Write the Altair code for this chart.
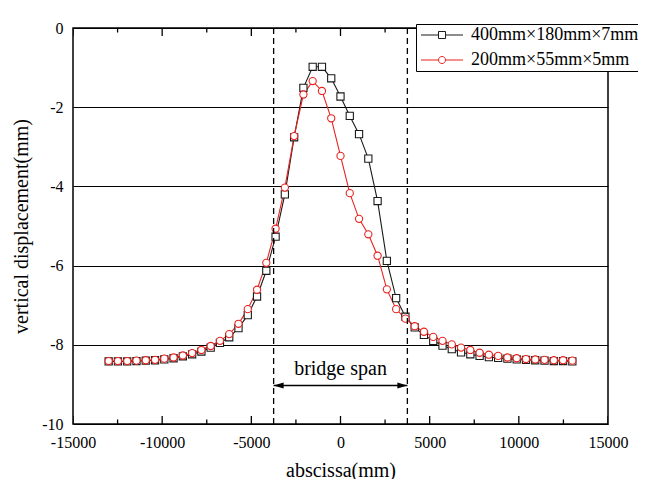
import altair as alt
import pandas as pd

FONT = "Liberation Serif"

x_mm = [-13000, -12480, -11960, -11440, -10920, -10400, -9880, -9360, -8840, -8320,
        -7800, -7280, -6760, -6240, -5720, -5200, -4680, -4160, -3640, -3120,
        -2600, -2080, -1560, -1040, -520, 0, 520, 1040, 1560, 2080,
        2600, 3120, 3640, 4160, 4680, 5200, 5720, 6240, 6760, 7280,
        7800, 8320, 8840, 9360, 9880, 10400, 10920, 11440, 11960, 12480, 13000]

y_400 = [-8.42, -8.42, -8.42, -8.41, -8.40, -8.39, -8.37, -8.34, -8.29, -8.24,
         -8.17, -8.07, -7.95, -7.81, -7.58, -7.25, -6.78, -6.13, -5.27, -4.20,
         -2.76, -1.51, -0.98, -0.98, -1.27, -1.73, -2.22, -2.68, -3.30, -4.37,
         -5.88, -6.82, -7.29, -7.56, -7.75, -7.90, -8.02, -8.11, -8.19, -8.24,
         -8.28, -8.31, -8.33, -8.35, -8.37, -8.38, -8.39, -8.40, -8.41, -8.41, -8.42]

y_200 = [-8.41, -8.41, -8.41, -8.40, -8.39, -8.38, -8.35, -8.32, -8.27, -8.21,
         -8.13, -8.03, -7.90, -7.73, -7.47, -7.10, -6.61, -5.93, -5.07, -4.03,
         -2.73, -1.68, -1.34, -1.59, -2.28, -3.23, -4.17, -4.82, -5.21, -5.75,
         -6.60, -7.10, -7.34, -7.53, -7.67, -7.80, -7.90, -7.99, -8.07, -8.13,
         -8.20, -8.25, -8.28, -8.32, -8.34, -8.36, -8.37, -8.38, -8.39, -8.39, -8.40]

series_names = ["400mm×180mm×7mm", "200mm×55mm×5mm"]
series_colors = ["#1a1a1a", "#e8231f"]

span_ends = [-3750, 3750]
arrow_y = [-9.03]
span_label = ["bridge span"]
span_label_y = [-8.76]

x_major = [-15000, -10000, -5000, 0, 5000, 10000, 15000]
x_minor = [-12500, -7500, -2500, 2500, 7500, 12500]
y_ticks = [-10, -8, -6, -4, -2, 0]
y_edges = [-10, 0]

W, H = 535, 396

df = pd.concat([
    pd.DataFrame({"x": x_mm, "y": y_400, "series": series_names[0]}),
    pd.DataFrame({"x": x_mm, "y": y_200, "series": series_names[1]}),
], ignore_index=True)

span_df = pd.DataFrame({"x": span_ends})
arrow_df = pd.DataFrame({"x": [span_ends[0]], "x2": [span_ends[1]], "y": arrow_y})
left_head = pd.DataFrame({"x": [span_ends[0]], "y": arrow_y})
right_head = pd.DataFrame({"x": [span_ends[1]], "y": arrow_y})
label_df = pd.DataFrame({"x": [0], "y": span_label_y, "label": span_label})
major_df = pd.DataFrame([{"x": v, "y": e} for v in x_major for e in y_edges])
minor_df = pd.DataFrame([{"x": v, "y": e} for v in x_minor for e in y_edges])

xscale = alt.Scale(domain=[-15000, 15000], nice=False, zero=False)
yscale = alt.Scale(domain=[-10, 0], nice=False, zero=False)

x_label_axis = alt.Axis(values=x_major, title="abscissa(mm)", labelExpr="'' + datum.value",
                        labelFont=FONT, labelFontSize=16, labelColor="black", labelPadding=10,
                        labelFlush=False, ticks=False, domain=False, grid=False,
                        titleFont=FONT, titleFontSize=20, titleFontWeight="normal",
                        titleColor="black", titlePadding=10)

y_axis = alt.Axis(orient="left", values=y_ticks, title="vertical displacement(mm)",
                  labelExpr="'' + datum.value",
                  labelFont=FONT, labelFontSize=16, labelColor="black", labelPadding=10,
                  labelFlush=False, ticks=False, domain=False, grid=True, gridColor="black",
                  gridWidth=1.2, gridOpacity=1, titleFont=FONT, titleFontSize=20,
                  titleFontWeight="normal", titleColor="black", titlePadding=10)

color_scale = alt.Scale(domain=series_names, range=series_colors)
X = alt.X("x:Q", scale=xscale, axis=None)
Y = alt.Y("y:Q", scale=yscale, axis=None)

lines = alt.Chart(df).mark_line(strokeWidth=1.1).encode(
    x=alt.X("x:Q", scale=xscale, axis=x_label_axis),
    y=alt.Y("y:Q", scale=yscale, axis=y_axis),
    color=alt.Color("series:N", scale=color_scale, legend=None),
    detail="series:N",
    order="x:Q",
)

points = alt.Chart(df).mark_point(filled=False, fill="white", fillOpacity=1, opacity=1,
                                  strokeWidth=1.1, size=52).encode(
    x=X, y=Y,
    color=alt.Color("series:N", scale=color_scale, legend=None),
    shape=alt.Shape("series:N", scale=alt.Scale(domain=series_names, range=["square", "circle"]),
                    legend=None),
)

# inward axis ticks on the bottom and top edges (half of each tick is clipped away)
major_ticks = alt.Chart(major_df).mark_tick(orient="vertical", size=16, thickness=1.3,
                                            color="black", opacity=1, clip=True).encode(x=X, y=Y)
minor_ticks = alt.Chart(minor_df).mark_tick(orient="vertical", size=9, thickness=1.3,
                                            color="black", opacity=1, clip=True).encode(x=X, y=Y)

dashed = alt.Chart(span_df).mark_rule(color="black", strokeWidth=1.3, strokeDash=[6, 4]).encode(
    x=X,
)

arrow = alt.Chart(arrow_df).mark_rule(color="black", strokeWidth=1.5).encode(
    x=X, x2="x2:Q", y=Y,
)

lhead = alt.Chart(left_head).mark_point(shape="M0,0L2,-0.6L2,0.6Z", size=100, filled=True,
                                        color="black", opacity=1).encode(x=X, y=Y)
rhead = alt.Chart(right_head).mark_point(shape="M0,0L-2,-0.6L-2,0.6Z", size=100, filled=True,
                                         color="black", opacity=1).encode(x=X, y=Y)

text = alt.Chart(label_df).mark_text(font=FONT, fontSize=20, color="black",
                                     baseline="alphabetic", align="center").encode(
    x=X, y=Y, text="label:N",
)

sq = "M-1.09,0L2.09,0M3.37,0L6.55,0M2.09,-0.64L3.37,-0.64L3.37,0.64L2.09,0.64Z"
ci = "M-1.09,0L2.09,0M3.37,0L6.55,0M3.37,0A0.64,0.64,0,1,1,2.09,0A0.64,0.64,0,1,1,3.37,0Z"

legend_layer = alt.Chart(df).transform_filter("false").mark_point(
    filled=False, fill="white", opacity=1, strokeWidth=1).encode(
    x=X, y=Y,
    color=alt.Color("series:N", scale=alt.Scale(domain=series_names, range=series_colors),
                    legend=alt.Legend(title=None, orient="none", legendX=343, legendY=-4,
                                      strokeColor="black", fillColor="white", padding=2,
                                      rowPadding=7, labelFont=FONT, labelFontSize=18,
                                      labelColor="black", labelLimit=300, labelOffset=35,
                                      symbolSize=121, symbolStrokeWidth=1)),
    shape=alt.Shape("series:N", scale=alt.Scale(domain=series_names, range=[sq, ci])),
)

chart = alt.layer(major_ticks, minor_ticks, lines, points, dashed, arrow, lhead, rhead, text,
                  legend_layer).resolve_scale(
    color="independent", shape="independent"
).resolve_axis(
    x="independent", y="independent"
).properties(
    width=W, height=H,
    autosize=alt.AutoSizeParams(type="none"),
    padding={"left": 65, "top": 20, "right": 30, "bottom": 55},
    background="white",
).configure_view(
    stroke="black", strokeWidth=1.5
)

chart.save("out.html", embed_options={"renderer": "svg", "actions": False})
